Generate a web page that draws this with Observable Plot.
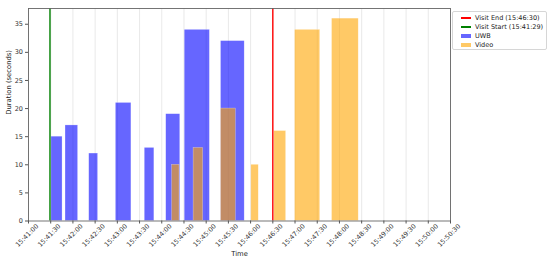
<!DOCTYPE html>
<html>
<head>
<meta charset="utf-8">
<script src="https://cdn.jsdelivr.net/npm/d3@7"></script>
<script src="https://cdn.jsdelivr.net/npm/@observablehq/plot@0.6"></script>
<style>
  html, body { margin: 0; padding: 0; background: white; }
  #wrap { position: relative; width: 550px; height: 262px; font-family: "DejaVu Sans", sans-serif; }
  #legend { position: absolute; left: 452px; top: 10.5px; width: 95px; height: 39.5px; border: 1px solid #d6d6d6; border-radius: 2px; background: rgba(255,255,255,0.8); box-sizing: border-box; padding: 1.5px 0 0 8px; font-size: 6.5px; color: #222; white-space: nowrap; }
  .row { display: flex; align-items: center; height: 9.2px; }
  .sw { width: 9.5px; margin-right: 4.5px; flex: none; }
  .line { height: 2px; }
  .patch { height: 4.5px; }
</style>
</head>
<body>
<div id="wrap"></div>
<script>
// ---- data ----
const tickLabels = ["15:41:00","15:41:30","15:42:00","15:42:30","15:43:00","15:43:30","15:44:00","15:44:30","15:45:00","15:45:30","15:46:00","15:46:30","15:47:00","15:47:30","15:48:00","15:48:30","15:49:00","15:49:30","15:50:00","15:50:30"];
const yTicks = [0, 5, 10, 15, 20, 25, 30, 35];
const uwbStarts = ["15:41:31","15:41:50","15:42:22","15:42:58","15:43:37","15:44:06","15:44:31","15:45:20"];
const uwbDurations = [15, 17, 12, 21, 13, 19, 34, 32];
const videoStarts = ["15:44:14","15:44:43","15:45:20","15:46:01","15:46:32","15:47:00","15:47:50"];
const videoDurations = [10, 13, 20, 10, 16, 34, 36];
const visitStart = "15:41:29";
const visitEnd = "15:46:30";

const t = s => new Date("2024-01-01T" + s + "Z");
const addSec = (d, s) => new Date(d.getTime() + s * 1000);
const tickDates = tickLabels.map(t);
const uwb = uwbStarts.map((s, i) => ({start: t(s), end: addSec(t(s), uwbDurations[i]), dur: uwbDurations[i]}));
const video = videoStarts.map((s, i) => ({start: t(s), end: addSec(t(s), videoDurations[i]), dur: videoDurations[i]}));

const chart = Plot.plot({
  width: 550, height: 262,
  marginLeft: 28, marginRight: 100, marginTop: 8, marginBottom: 41.5,
  style: {fontFamily: "DejaVu Sans, sans-serif", fontSize: "6.5px", color: "#333", background: "white"},
  x: {type: "utc", domain: [tickDates[0], tickDates[tickDates.length - 1]]},
  y: {domain: [0, 37.8]},
  marks: [
    Plot.ruleX(tickDates, {stroke: "#b0b0b0", strokeOpacity: 0.35, strokeWidth: 0.8}),
    Plot.rect(uwb, {x1: "start", x2: "end", y1: 0, y2: "dur", fill: "#0000ff", fillOpacity: 0.6, stroke: "white", strokeOpacity: 0.5, strokeWidth: 0.5}),
    Plot.rect(video, {x1: "start", x2: "end", y1: 0, y2: "dur", fill: "#ffa500", fillOpacity: 0.6, stroke: "white", strokeOpacity: 0.5, strokeWidth: 0.5}),
    Plot.ruleX([t(visitEnd)], {stroke: "red", strokeWidth: 1.4}),
    Plot.ruleX([t(visitStart)], {stroke: "green", strokeWidth: 1.4}),
    Plot.frame({stroke: "#666", strokeWidth: 0.9}),
    Plot.axisX({ticks: tickDates, tickFormat: () => "", tickSize: 3, stroke: "#555", label: null}),
    Plot.text(tickDates, {x: d => d, frameAnchor: "bottom", dy: 16, rotate: -45, text: (d, i) => tickLabels[i], fill: "#333"}),
    Plot.axisY({ticks: yTicks, tickSize: 3, tickPadding: 2.5, stroke: "#555", label: null}),
    Plot.text(["Time"], {frameAnchor: "bottom", dy: 34.5, fill: "#222", fontSize: 6.8}),
    Plot.text(["Duration (seconds)"], {frameAnchor: "left", dx: -19.5, rotate: -90, fill: "#222", fontSize: 6.8})
  ]
});
const wrap = document.getElementById("wrap");
wrap.appendChild(chart);

const legendItems = [
  {label: "Visit End (" + visitEnd + ")", color: "#ff0000", kind: "line"},
  {label: "Visit Start (" + visitStart + ")", color: "#008000", kind: "line"},
  {label: "UWB", color: "rgba(0,0,255,0.6)", kind: "patch"},
  {label: "Video", color: "rgba(255,165,0,0.6)", kind: "patch"}
];
const leg = document.createElement("div");
leg.id = "legend";
for (const it of legendItems) {
  const r = document.createElement("div");
  r.className = "row";
  const sw = document.createElement("div");
  sw.className = "sw " + it.kind;
  sw.style.background = it.color;
  const tx = document.createElement("span");
  tx.textContent = it.label;
  r.appendChild(sw); r.appendChild(tx);
  leg.appendChild(r);
}
wrap.appendChild(leg);
</script>
</body>
</html>
